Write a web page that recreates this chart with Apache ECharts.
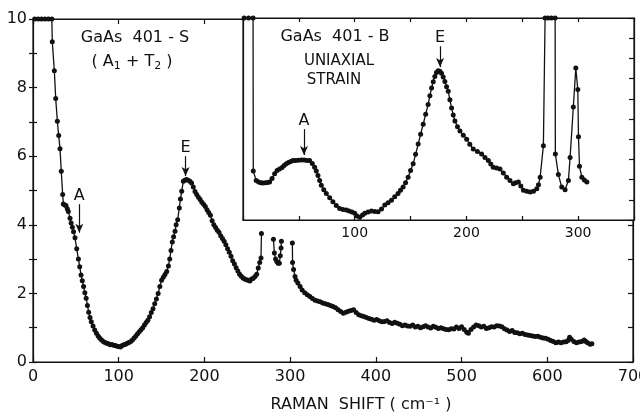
<!DOCTYPE html>
<html>
<head>
<meta charset="utf-8" />
<title>GaAs 401 Raman</title>
<script src="https://cdn.jsdelivr.net/npm/echarts@6/dist/echarts.min.js"></script>
<style>
  html, body { margin: 0; padding: 0; background: #fff; }
  #content { width: 640px; height: 416px; }
</style>
</head>
<body>
<div id="content"></div>
<script type="text/javascript">
    // main spectrum, GaAs 401-S (A1+T2); null = gap (off scale)
    var shiftS = [2, 6, 10, 14, 18, 22, 22.5, 24.9, 26.5, 28.4, 30, 31.5, 33, 34.6, 35.4, 37, 38.5, 40, 41.2, 43.2, 44.5, 45.9, 47.3, 49,
        51, 53, 54.5, 56, 57.5, 59, 60.5, 62, 63.5, 65, 66.5, 68, 70, 72, 74, 76, 78, 80, 82, 84, 86, 88, 90, 92, 94, 96, 98,
        100, 102, 104, 106, 108, 110, 112, 114, 116, 118, 120, 122, 124, 126, 128, 130, 132, 134, 136, 138, 140, 142, 144, 146, 148,
        150, 152, 154, 156, 158, 159.5, 161, 162.5, 164, 165.7, 167, 168.8, 170.7, 172, 173.5, 175.4, 177, 179, 181, 183, 185, 187, 189,
        191, 193, 195, 197, 199, 201, 203, 205, 207, 209, 211, 213, 215, 217, 219, 221, 223, 225, 227, 229, 231, 233, 235, 237, 239,
        241, 243, 245, 247, 249, 251, 253, 255, 257, 259, 261, 262.8, 264.5, 266, 266.5, 273,
        280.5, 281.6, 283, 284.4, 286, 287.4, 288.5, 289.4, 289.8, 296,
        302.6, 302.8, 304, 305.7, 307, 309, 311.6, 314, 317, 320, 323, 326, 329, 332, 335, 338, 341, 344, 347, 350, 353, 356, 359,
        362, 365, 368, 371, 374, 377, 380, 383, 386, 389, 392, 395, 398, 401, 404, 407, 410, 413, 416, 419, 422, 425, 428, 431, 434,
        437, 440, 443, 446, 449, 452, 455, 458, 461, 464, 467, 470, 473, 476, 479, 482, 485, 488, 491, 494, 497, 500, 503, 506, 508,
        511, 514, 517, 520, 523, 526, 529, 532, 535, 538, 541, 544, 547, 550, 553, 556, 559, 562, 565, 568, 571, 574, 577, 580, 583,
        586, 589, 592, 595, 598, 601, 604, 607, 610, 613, 616, 619, 622, 624, 626, 628, 631, 634, 637, 640, 643, 645, 647, 650, 652];
    var countsS = [10, 10, 10, 10, 10, 10, 9.34, 8.49, 7.68, 7.02, 6.6, 6.22, 5.56, 4.88, 4.61, 4.58, 4.56, 4.47, 4.39, 4.19, 4.05, 3.93, 3.8, 3.62,
        3.3, 3.0, 2.78, 2.54, 2.37, 2.2, 2.02, 1.86, 1.65, 1.45, 1.3, 1.17, 1.05, 0.93, 0.84, 0.76, 0.69, 0.64, 0.6, 0.57, 0.55, 0.53, 0.5, 0.51, 0.49, 0.48, 0.46,
        0.45, 0.44, 0.48, 0.5, 0.52, 0.55, 0.57, 0.6, 0.64, 0.7, 0.76, 0.82, 0.88, 0.94, 1.0, 1.08, 1.15, 1.22, 1.32, 1.44, 1.55, 1.7, 1.84, 2.0, 2.2,
        2.38, 2.47, 2.55, 2.64, 2.8, 3.0, 3.25, 3.5, 3.65, 3.81, 4.0, 4.15, 4.49, 4.75, 4.98, 5.27, 5.3, 5.32, 5.3, 5.27, 5.22, 5.1, 4.97,
        4.88, 4.8, 4.74, 4.66, 4.6, 4.53, 4.44, 4.36, 4.28, 4.12, 4.0, 3.92, 3.84, 3.78, 3.68, 3.6, 3.52, 3.42, 3.3, 3.2, 3.08, 2.95, 2.86, 2.75, 2.65,
        2.56, 2.5, 2.45, 2.42, 2.4, 2.38, 2.36, 2.42, 2.44, 2.49, 2.56, 2.74, 2.9, 3.03, 3.75, null,
        3.58, 3.18, 3.0, 2.93, 2.88, 2.88, 3.1, 3.32, 3.52, null,
        3.47, 2.9, 2.7, 2.49, 2.38, 2.3, 2.2, 2.1, 2.02, 1.96, 1.91, 1.85, 1.8, 1.78, 1.76, 1.72, 1.7, 1.68, 1.65, 1.62, 1.58, 1.52, 1.47,
        1.42, 1.45, 1.48, 1.5, 1.52, 1.44, 1.38, 1.35, 1.33, 1.3, 1.27, 1.25, 1.22, 1.24, 1.2, 1.17, 1.18, 1.2, 1.15, 1.12, 1.16, 1.13, 1.1, 1.06, 1.08,
        1.05, 1.04, 1.08, 1.02, 1.04, 1.0, 1.03, 1.06, 1.02, 0.99, 1.04, 1.01, 0.98, 1.0, 0.97, 0.95, 0.94, 0.97, 0.96, 1.02, 0.98, 1.03, 0.95, 0.87, 0.84,
        0.95, 1.02, 1.08, 1.06, 1.02, 1.04, 0.98, 1.0, 1.03, 1.02, 1.06, 1.05, 1.03, 0.97, 0.93, 0.89, 0.92, 0.86, 0.85, 0.82, 0.84, 0.8, 0.79, 0.77, 0.76,
        0.74, 0.75, 0.72, 0.7, 0.69, 0.66, 0.63, 0.6, 0.56, 0.58, 0.56, 0.58, 0.59, 0.63, 0.72, 0.66, 0.6, 0.56, 0.58, 0.6, 0.64, 0.6, 0.56, 0.52, 0.53];

    // inset spectrum, GaAs 401-B uniaxial strain
    var shiftB = [1, 5, 9, 9.2, 11.8, 14, 16, 17.8, 20, 22, 23.8, 26, 28.3, 30.5, 32.7, 35, 36.8, 38.7, 40.7, 42.7, 44.7, 47, 49.5, 52.2,
        54.7, 57.2, 59.6, 62, 64.1, 65.6, 67.1, 68.6, 70.1, 72.3, 74.6, 77.6, 80.5, 83.5, 86.5, 89.5, 92.5, 95, 97.5, 100, 102, 104.5,
        107, 109, 112, 115, 118, 120.9, 124, 126.9, 129.9, 132.9, 135.8, 138.8, 141, 143.3, 145.5, 147.8, 150, 152.3, 154.5, 156.8, 159,
        161.3, 163.5, 165.7, 167.3, 168.8, 170.3, 171.7, 173.2, 174.7, 176.2, 177.7, 179.2, 180.7, 182.2, 183.7, 185.2, 186.7, 188.2,
        189.7, 192, 194.2, 197.2, 200.2, 203, 206.1, 209.8, 213.6, 216.6, 219.6, 221.8, 224, 227, 230, 233, 236, 239, 242, 244, 246.5,
        248.7, 251, 254, 257, 260, 263, 264.5, 266, 268.9, 270.4, 273, 276, 279.4, 279.6, 282.3, 285.3, 288.3, 291.3, 292.8, 295.7,
        297.9, 299.7, 300.3, 301.2, 303.3, 305.5, 307.8];
    var countsB = [10, 10, 10, 2.42, 1.96, 1.88, 1.84, 1.83, 1.84, 1.86, 1.88, 2.05, 2.29, 2.45, 2.53, 2.6, 2.7, 2.78, 2.85, 2.9, 2.94, 2.95, 2.96, 2.97,
        2.97, 2.95, 2.94, 2.8, 2.61, 2.42, 2.2, 1.95, 1.72, 1.5, 1.31, 1.1, 0.9, 0.72, 0.57, 0.52, 0.49, 0.45, 0.4, 0.33, 0.2, 0.13,
        0.25, 0.33, 0.4, 0.44, 0.42, 0.41, 0.55, 0.74, 0.86, 0.98, 1.15, 1.31, 1.47, 1.63, 1.85, 2.12, 2.45, 2.78, 3.25, 3.76, 4.25,
        4.74, 5.23, 5.72, 6.15, 6.54, 6.85, 7.11, 7.3, 7.39, 7.37, 7.27, 7.08, 6.86, 6.6, 6.37, 5.95, 5.55, 5.2,
        4.9, 4.62, 4.41, 4.2, 4.0, 3.75, 3.51, 3.39, 3.27, 3.1, 2.94, 2.77, 2.61, 2.57, 2.53, 2.33, 2.12, 1.95, 1.8, 1.84, 1.88,
        1.68, 1.47, 1.42, 1.39, 1.42, 1.55, 1.75, 2.12, 3.68, 10, 10, 10, 10, 3.27, 2.25, 1.63, 1.5, 1.96, 3.1, 5.59,
        7.52, 6.46, 4.12, 2.66, 2.12, 1.98, 1.88];

    var mainTicksX = [0, 100, 200, 300, 400, 500, 600, 700];
    var mainTicksY = [0, 2, 4, 6, 8, 10];
    var insetTicksX = [100, 200, 300];

    function pairs(xs, ys) {
        var out = [];
        for (var i = 0; i < xs.length; i++) {
            out.push([xs[i], ys[i] == null ? '-' : ys[i]]);
        }
        return out;
    }

    var ink = '#111';
    var font = 'DejaVu Sans';
    var tickStyle = { color: ink, width: 1.2 };

    function axisBase(extra) {
        var a = {
            type: 'value', splitLine: { show: false },
            axisLine: { show: true, onZero: false, lineStyle: tickStyle },
            axisTick: { show: true, inside: true, length: 5, lineStyle: tickStyle },
            axisLabel: { show: false }
        };
        for (var k in extra) a[k] = extra[k];
        return a;
    }

    var myChart = echarts.init(document.getElementById("content"));
    myChart.setOption({
        animation: false,
        backgroundColor: '#fff',
        textStyle: { fontFamily: font, color: ink },
        grid: [
            { left: 33, top: 19, width: 600, height: 343, outerBoundsMode: 'none',
              show: true, backgroundColor: 'transparent', borderColor: ink, borderWidth: 1.2 },
            { left: 243, top: 18, width: 391, height: 202, outerBoundsMode: 'none',
              show: true, backgroundColor: '#fff', borderColor: ink, borderWidth: 1.2, z: 3 }
        ],
        xAxis: [
            axisBase({
                gridIndex: 0, position: 'bottom', min: 0, max: 700, interval: 100,
                axisLabel: { fontSize: 16, color: ink, margin: 7, fontFamily: font,
                    formatter: function (v) { return mainTicksX.indexOf(v) >= 0 ? String(v) : ''; } }
            }),
            axisBase({ gridIndex: 0, position: 'top', min: 0, max: 700, interval: 100 }),
            axisBase({
                gridIndex: 1, position: 'bottom', min: 0, max: 350, interval: 50, z: 4,
                axisTick: { inside: true, length: 4, lineStyle: tickStyle },
                axisLabel: { fontSize: 14, color: ink, margin: 6, fontFamily: font,
                    formatter: function (v) { return insetTicksX.indexOf(v) >= 0 ? String(v) : ''; } }
            }),
            axisBase({ gridIndex: 1, position: 'top', min: 0, max: 350, interval: 50, z: 4,
                axisTick: { inside: true, length: 4, lineStyle: tickStyle } })
        ],
        yAxis: [
            axisBase({
                gridIndex: 0, position: 'left', min: 0, max: 10, interval: 1,
                axisTick: { inside: false, length: 4, lineStyle: tickStyle },
                axisLabel: { fontSize: 16, color: ink, margin: 6, fontFamily: font,
                    formatter: function (v) { return mainTicksY.indexOf(v) >= 0 ? String(v) : ''; } }
            }),
            axisBase({ gridIndex: 0, position: 'left', min: 0, max: 10, interval: 1, axisLine: { show: false, onZero: false },
                axisTick: { inside: true, length: 4, lineStyle: tickStyle } }),
            axisBase({ gridIndex: 0, position: 'right', min: 0, max: 10, interval: 1 }),
            axisBase({ gridIndex: 1, position: 'left', min: 0, max: 10, interval: 1, z: 4, axisTick: { show: false } }),
            axisBase({ gridIndex: 1, position: 'right', min: 0, max: 10, interval: 1, z: 4 })
        ],
        series: [
            {
                name: 'GaAs 401-S', type: 'line', xAxisIndex: 0, yAxisIndex: 0,
                data: pairs(shiftS, countsS), connectNulls: false,
                symbol: 'circle', symbolSize: 5, showAllSymbol: true,
                itemStyle: { color: ink }, lineStyle: { color: ink, width: 1.3 },
                markLine: {
                    silent: true, symbol: ['none', 'arrow'], symbolSize: [6, 9],
                    lineStyle: { color: ink, width: 1.2, type: 'solid' },
                    label: { show: true, position: 'start', formatter: '{b}', fontSize: 16, color: ink, fontFamily: font, distance: 0 },
                    data: [
                        [{ coord: [178, 6.0], name: 'E' }, { coord: [178, 5.42] }],
                        [{ coord: [54, 4.6], name: 'A' }, { coord: [54, 3.77] }]
                    ]
                }
            },
            {
                name: 'GaAs 401-B', type: 'line', xAxisIndex: 2, yAxisIndex: 3, z: 5,
                data: pairs(shiftB, countsB),
                symbol: 'circle', symbolSize: 5, showAllSymbol: true,
                itemStyle: { color: ink }, lineStyle: { color: ink, width: 1.3 },
                markLine: {
                    silent: true, symbol: ['none', 'arrow'], symbolSize: [6, 9],
                    lineStyle: { color: ink, width: 1.2, type: 'solid' },
                    label: { show: true, position: 'start', formatter: '{b}', fontSize: 16, color: ink, fontFamily: font, distance: 0 },
                    data: [
                        [{ coord: [176.4, 8.6], name: 'E' }, { coord: [176.4, 7.57] }],
                        [{ coord: [54.6, 4.5], name: 'A' }, { coord: [54.6, 3.22] }]
                    ]
                }
            }
        ],
        graphic: [
            { type: 'text', z: 10, x: 135, y: 38, style: { text: 'GaAs  401 - S', font: '16px "DejaVu Sans"', fill: ink, align: 'center', verticalAlign: 'middle' } },
            { type: 'text', z: 10, x: 132, y: 62, style: {
                text: '( A{s|1} + T{s|2} )', font: '16px "DejaVu Sans"', fill: ink, align: 'center', verticalAlign: 'middle',
                rich: { s: { fontSize: 11, fontFamily: font, fill: ink, verticalAlign: 'bottom', padding: [8, 0, 0, 0] } } } },
            { type: 'text', z: 10, x: 335, y: 37, style: { text: 'GaAs  401 - B', font: '16px "DejaVu Sans"', fill: ink, align: 'center', verticalAlign: 'middle' } },
            { type: 'text', z: 10, x: 339, y: 61, style: { text: 'UNIAXIAL', font: '15px "DejaVu Sans"', fill: ink, align: 'center', verticalAlign: 'middle' } },
            { type: 'text', z: 10, x: 334, y: 80, style: { text: 'STRAIN', font: '15px "DejaVu Sans"', fill: ink, align: 'center', verticalAlign: 'middle' } },
            { type: 'text', z: 10, x: 361, y: 405, style: { text: 'RAMAN  SHIFT ( cm\u207B\u00B9 )', font: '16px "DejaVu Sans"', fill: ink, align: 'center', verticalAlign: 'middle' } }
        ]
    });
</script>
</body>
</html>
